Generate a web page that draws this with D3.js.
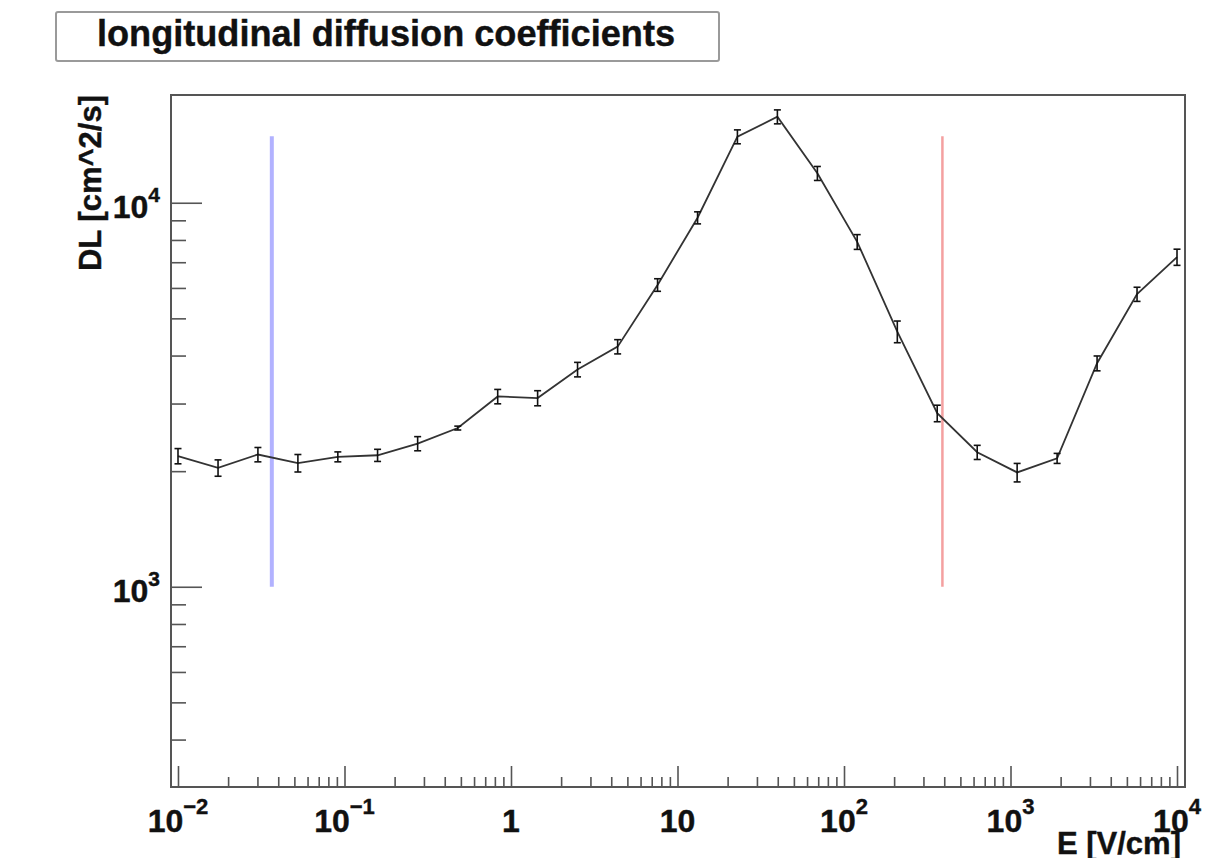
<!DOCTYPE html>
<html>
<head>
<meta charset="utf-8">
<script src="https://cdn.jsdelivr.net/npm/d3@7"></script>
<style>
  body { margin: 0; background: #fff; }
  text { font-family: "Liberation Sans", Arial, sans-serif; font-weight: bold; fill: #111; stroke: #111; stroke-width: 0.4; }
</style>
</head>
<body>
<div id="chart"></div>
<script>
// E field values (V/cm), evenly spaced in log
var efield = [0.01, 0.0174, 0.0302, 0.0525, 0.0912, 0.158, 0.275, 0.479, 0.832, 1.445,
  2.51, 4.37, 7.59, 13.2, 22.9, 39.8, 69.2, 120, 209, 363, 631, 1096, 1905, 3311, 5754, 10000];
// longitudinal diffusion DL (cm^2/s)
var dl = [2190, 2040, 2210, 2100, 2180, 2200, 2360, 2590, 3130, 3100,
  3680, 4220, 6110, 9140, 14860, 16750, 11930, 7910, 4620, 2830, 2240, 1985, 2160, 3820, 5780, 7220];
var dlErr = [100, 100, 95, 110, 65, 80, 100, 30, 135, 140,
  160, 180, 230, 330, 620, 700, 500, 350, 300, 140, 95, 110, 65, 170, 245, 350];

// vertical marker lines
var blueLineX = 0.0366;
var redLineX = 390;
var markerY = [1000, 14900];

// tick labels
var xTickVals = [0.01, 0.1, 1, 10, 100, 1000, 10000];
var xTickBase = ["10", "10", "1", "10", "10", "10", "10"];
var xTickExp = ["\u22122", "\u22121", "", "", "2", "3", "4"];
var yTickVals = [1000, 10000];
var yTickBase = ["10", "10"];
var yTickExp = ["3", "4"];

var svgWidth = 1230;
var svgHeight = 858;

var frame = { left: 171, right: 1185, top: 95, bottom: 787 };

var svg = d3.select("#chart")
  .append("svg")
  .attr("width", svgWidth)
  .attr("height", svgHeight);

var x = d3.scaleLog()
  .domain([Math.pow(10, -2.042), Math.pow(10, 4.048)])
  .range([frame.left, frame.right]);

var y = d3.scaleLog()
  .domain([301, 19080])
  .range([frame.bottom, frame.top]);

// minor tick values
var xMinor = [];
[0.01, 0.1, 1, 10, 100, 1000].forEach(function (d) {
  for (var k = 2; k <= 9; k++) xMinor.push(d * k);
});
var yMinor = [];
[100, 1000].forEach(function (d) {
  for (var k = 2; k <= 9; k++) {
    var v = d * k;
    if (v > y.domain()[0] && v < y.domain()[1]) yMinor.push(v);
  }
});

// title box
svg.append("rect")
  .attr("x", 56)
  .attr("y", 12)
  .attr("width", 663)
  .attr("height", 49)
  .attr("rx", 2)
  .attr("fill", "#fff")
  .attr("stroke", "#9a9a9a")
  .attr("stroke-width", 2);

svg.append("text")
  .attr("x", 386)
  .attr("y", 46)
  .attr("text-anchor", "middle")
  .attr("font-size", 36)
  .attr("textLength", 578)
  .attr("lengthAdjust", "spacingAndGlyphs")
  .text("longitudinal diffusion coefficients");

// axes (ticks inside the frame)
var tickColor = "#555";

var xMajorAxis = svg.append("g")
  .attr("transform", `translate(0, ${frame.bottom})`)
  .call(d3.axisBottom(x).tickValues(xTickVals).tickSize(-21).tickFormat(""));
var xMinorAxis = svg.append("g")
  .attr("transform", `translate(0, ${frame.bottom})`)
  .call(d3.axisBottom(x).tickValues(xMinor).tickSize(-10).tickFormat(""));
var yMajorAxis = svg.append("g")
  .attr("transform", `translate(${frame.left}, 0)`)
  .call(d3.axisLeft(y).tickValues(yTickVals).tickSize(-31).tickFormat(""));
var yMinorAxis = svg.append("g")
  .attr("transform", `translate(${frame.left}, 0)`)
  .call(d3.axisLeft(y).tickValues(yMinor).tickSize(-15).tickFormat(""));

[xMajorAxis, xMinorAxis, yMajorAxis, yMinorAxis].forEach(function (g) {
  g.select(".domain").remove();
  g.selectAll("line").attr("stroke", tickColor).attr("stroke-width", 1.6);
});

// frame
svg.append("rect")
  .attr("x", frame.left)
  .attr("y", frame.top)
  .attr("width", frame.right - frame.left)
  .attr("height", frame.bottom - frame.top)
  .attr("fill", "none")
  .attr("stroke", "#555")
  .attr("stroke-width", 2);

// x tick labels
xTickVals.forEach(function (v, i) {
  var t = svg.append("text")
    .attr("x", x(v))
    .attr("y", 832)
    .attr("text-anchor", "middle")
    .attr("font-size", 32);
  t.append("tspan").text(xTickBase[i]);
  if (xTickExp[i]) {
    t.append("tspan").attr("font-size", 22).attr("dy", -18).text(xTickExp[i]);
  }
});

// y tick labels
yTickVals.forEach(function (v, i) {
  var t = svg.append("text")
    .attr("x", 160)
    .attr("y", y(v) + 15)
    .attr("text-anchor", "end")
    .attr("font-size", 32);
  t.append("tspan").text(yTickBase[i]);
  t.append("tspan").attr("font-size", 21).attr("dy", -16).text(yTickExp[i]);
});

// axis titles
svg.append("text")
  .attr("transform", `translate(101, ${frame.top}) rotate(-90)`)
  .attr("text-anchor", "end")
  .attr("font-size", 31)
  .text("DL [cm^2/s]");

svg.append("text")
  .attr("x", 1181)
  .attr("y", 854)
  .attr("text-anchor", "end")
  .attr("font-size", 31)
  .text("E [V/cm]");

// marker lines
svg.append("line")
  .attr("x1", x(blueLineX)).attr("x2", x(blueLineX))
  .attr("y1", y(markerY[0])).attr("y2", y(markerY[1]))
  .attr("stroke", "#b2b2ff")
  .attr("stroke-width", 4);

svg.append("line")
  .attr("x1", x(redLineX)).attr("x2", x(redLineX))
  .attr("y1", y(markerY[0])).attr("y2", y(markerY[1]))
  .attr("stroke", "#f4a0a0")
  .attr("stroke-width", 2.5);

// data line
var points = efield.map(function (e, i) {
  return { e: e, v: dl[i], err: dlErr[i] };
});

var line = d3.line()
  .x(d => x(d.e))
  .y(d => y(d.v));

svg.append("path")
  .datum(points)
  .attr("d", line)
  .attr("fill", "none")
  .attr("stroke", "#333")
  .attr("stroke-width", 1.8);

// error bars
var errGroup = svg.append("g")
  .attr("stroke", "#111")
  .attr("stroke-width", 1.6);

errGroup.selectAll(".bar")
  .data(points)
  .enter()
  .append("line")
  .attr("x1", d => x(d.e))
  .attr("x2", d => x(d.e))
  .attr("y1", d => y(d.v - d.err))
  .attr("y2", d => y(d.v + d.err));

errGroup.selectAll(".capTop")
  .data(points)
  .enter()
  .append("line")
  .attr("x1", d => x(d.e) - 3.5)
  .attr("x2", d => x(d.e) + 3.5)
  .attr("y1", d => y(d.v + d.err))
  .attr("y2", d => y(d.v + d.err));

errGroup.selectAll(".capBottom")
  .data(points)
  .enter()
  .append("line")
  .attr("x1", d => x(d.e) - 3.5)
  .attr("x2", d => x(d.e) + 3.5)
  .attr("y1", d => y(d.v - d.err))
  .attr("y2", d => y(d.v - d.err));
</script>
</body>
</html>
